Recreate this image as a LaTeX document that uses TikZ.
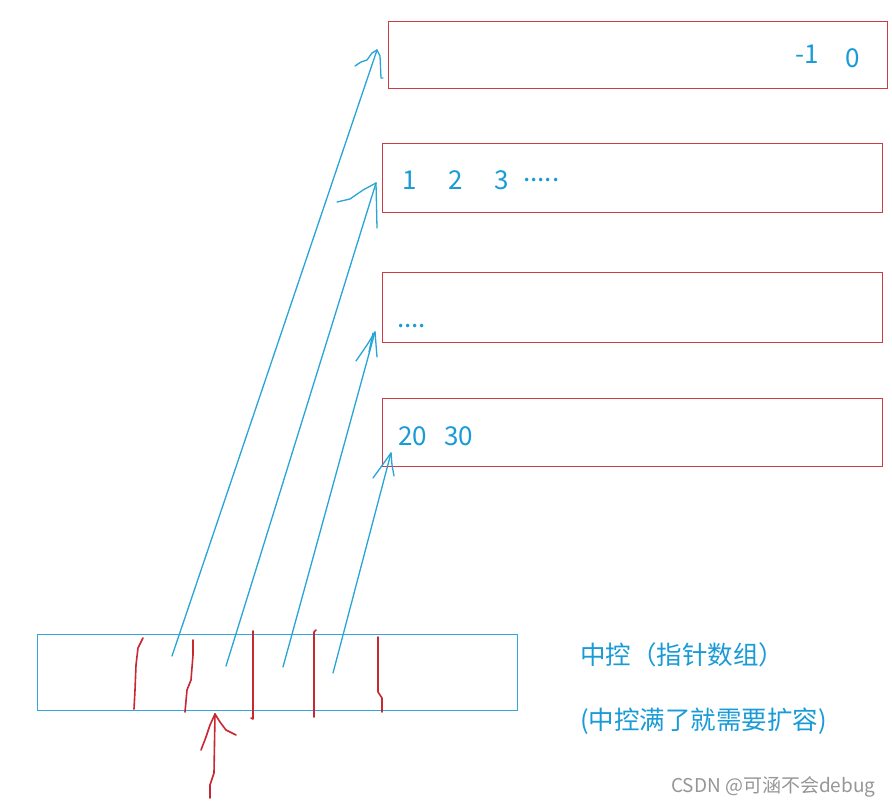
\documentclass[tikz,border=0pt]{standalone}
\usepackage{fontspec}
\setmainfont{Noto Sans CJK SC}
\definecolor{boxred}{RGB}{205,60,70}
\definecolor{handred}{RGB}{200,40,50}
\definecolor{lineblue}{RGB}{40,165,215}
\definecolor{txtblue}{RGB}{25,155,215}
\definecolor{boxblue}{RGB}{50,168,218}
\definecolor{wmgray}{RGB}{150,150,150}
\begin{document}
\begin{tikzpicture}[x=1pt,y=-1pt,
  redbox/.style={draw=boxred, line width=1.1pt, inner sep=0pt, anchor=north west},
  bluebox/.style={draw=boxblue, line width=1.4pt, inner sep=0pt, anchor=north west},
  handblue/.style={draw=lineblue, line width=1.3pt, line cap=round, line join=round},
  handline/.style={draw=handred, line width=1.6pt, line cap=round, line join=round},
  lbl/.style={text=txtblue, font=\fontsize{26}{30}\selectfont, inner sep=0pt, anchor=west},
  cnlbl/.style={text=txtblue, font=\fontsize{25.5}{30}\selectfont, inner sep=0pt, anchor=west},
  wm/.style={text=wmgray, font=\fontsize{19}{22}\selectfont, inner sep=0pt, anchor=west}]
\useasboundingbox (0,0) rectangle (892,807);
\fill[white] (0,0) rectangle (892,807);

% red boxes
\node[redbox, minimum width=499pt, minimum height=67pt] (b1) at (388,21) {};
\node[redbox, minimum width=500pt, minimum height=69pt] (b2) at (382,143) {};
\node[redbox, minimum width=500pt, minimum height=70pt] (b3) at (382,272) {};
\node[redbox, minimum width=500pt, minimum height=68pt] (b4) at (382,398) {};
% control array
\node[bluebox, minimum width=480pt, minimum height=76pt] (ctl) at (37,634) {};

% texts in boxes
\node[lbl] (t1a) at (795,54) {-1};
\node[lbl] (t1b) at (845,58) {0};
\node[lbl] (t2a) at (402,180) {1};
\node[lbl] (t2b) at (448,180) {2};
\node[lbl] (t2c) at (494,180) {3};
\node[lbl] (t2d) at (523,180) {.....};
\node[lbl] (t3a) at (397,326) {....};
\node[lbl] (t4a) at (398,436) {20};
\node[lbl] (t4b) at (444,436) {30};

% labels
\node[cnlbl] (lab1) at (580,655) {中控（指针数组）};
\node[cnlbl] (lab2) at (580,721) {(中控满了就需要扩容)};
\node[wm] (wmk) at (671,787) {CSDN @可涵不会debug};

% coordinates for pointers
\coordinate (s1) at (172,656); \coordinate (e1) at (377,50);
\coordinate (s2) at (226,666); \coordinate (e2) at (376,183);
\coordinate (s3) at (283,667); \coordinate (e3) at (375,332);
\coordinate (s4) at (333,673); \coordinate (e4) at (391,453);

\draw[handblue] (s1) -- (e1);
\draw[handblue] (e1) -- (372,53) -- (367,60) -- (361,62) -- (355,66);
\draw[handblue] (e1) -- (380,56) -- (381,78) -- (383,78);
\draw[handblue] (s2) -- (e2);
\draw[handblue] (e2) -- (363,190) -- (350,199) -- (337,202);
\draw[handblue] (e2) -- (377,228);
\draw[handblue] (s3) -- (e3);
\draw[handblue] (e3) -- (367,345) -- (356,361);
\draw[handblue] (e3) -- (377,357);
\draw[handblue] (373,333) -- (369,352);
\draw[handblue] (s4) -- (e4);
\draw[handblue] (e4) -- (381,467) -- (373,478);
\draw[handblue] (e4) -- (392,465) -- (394,476);

% red separators
\draw[handline] (143,638) -- (138,648) -- (136,665) -- (135,690) -- (134,709);
\draw[handline] (193,640) -- (193,655) -- (191,680) -- (187,690) -- (185,712);
\draw[handline] (253,631) -- (253,719) -- (251,718);
\draw[handline] (316,630) -- (314,632) -- (314,717);
\draw[handline] (378,637) -- (378,692) -- (382,698) -- (382,712);

% red input arrow
\coordinate (rt) at (210,798); \coordinate (rh) at (215,714);
\draw[handline] (rt) -- (210,785) -- (214,773) -- (rh);
\draw[handline] (rh) -- (210,725) -- (206,737) -- (201,750);
\draw[handline] (rh) -- (220,722) -- (226,730) -- (236,735);
\end{tikzpicture}
\end{document}
